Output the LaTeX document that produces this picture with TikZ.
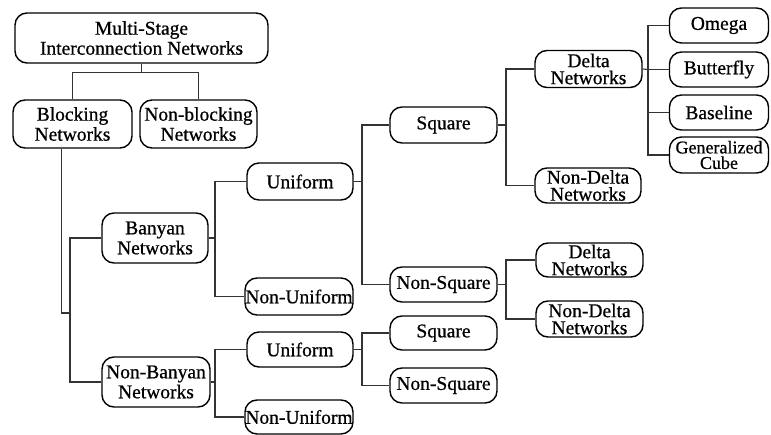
\documentclass[tikz,border=0pt]{standalone}
\usepackage{fontspec}
\setmainfont{Liberation Serif}[FakeBold=0.7]
\begin{document}
\begin{tikzpicture}[x=1pt,y=-1pt,
  nbox/.style={draw=black, line width=1.4pt, rounded corners=12pt, align=center,
    inner sep=0pt, font=\fontsize{19.5}{20}\selectfont},
  tight/.style={font=\fontsize{19.5}{17}\selectfont},
  link/.style={draw=black!80, line width=1.1pt}]
\useasboundingbox (0,0) rectangle (771,435);

% level 0 and 1
\node[nbox, minimum width=253pt, minimum height=50pt] (msin) at (141.5,38) {Multi-Stage\\Interconnection Networks};
\node[nbox, minimum width=119pt, minimum height=48pt] (block) at (72.5,124) {Blocking\\Networks};
\node[nbox, minimum width=117pt, minimum height=48pt] (nonblock) at (198.5,124) {Non-blocking\\Networks};

% banyan branch
\node[nbox, minimum width=106pt, minimum height=50pt] (banyan) at (155,238) {Banyan\\Networks};
\node[nbox, minimum width=108pt, minimum height=50pt] (nonbanyan) at (156,382) {Non-Banyan\\Networks};
\node[nbox, minimum width=106pt, minimum height=37pt] (uni1) at (300,181.5) {Uniform};
\node[nbox, minimum width=108pt, minimum height=37pt] (nonuni1) at (299,296.5) {Non-Uniform};
\node[nbox, minimum width=106pt, minimum height=35pt] (uni2) at (300,349.5) {Uniform};
\node[nbox, minimum width=108pt, minimum height=34pt] (nonuni2) at (299,417) {Non-Uniform};

% square / non-square
\node[nbox, minimum width=107pt, minimum height=36pt] (sq1) at (443.5,125) {Square};
\node[nbox, minimum width=107pt, minimum height=35pt] (nsq1) at (443.5,284.5) {Non-Square};
\node[nbox, minimum width=107pt, minimum height=34pt] (sq2) at (443.5,333) {Square};
\node[nbox, minimum width=107pt, minimum height=35pt] (nsq2) at (443.5,385.5) {Non-Square};

% delta / non-delta
\node[nbox, tight, minimum width=107pt, minimum height=37pt] (delta1) at (588.5,69) {Delta\\Networks};
\node[nbox, tight, minimum width=106pt, minimum height=35pt] (ndelta1) at (588,185.5) {Non-Delta\\Networks};
\node[nbox, tight, minimum width=107pt, minimum height=34pt] (delta2) at (589.5,260) {Delta\\Networks};
\node[nbox, tight, minimum width=107pt, minimum height=36pt] (ndelta2) at (589.5,319) {Non-Delta\\Networks};

% delta network types
\node[nbox, minimum width=99pt, minimum height=35pt] (omega) at (719,25.5) {Omega};
\node[nbox, minimum width=99pt, minimum height=35pt] (butterfly) at (719,69.5) {Butterfly};
\node[nbox, minimum width=99pt, minimum height=35pt] (baseline) at (719,112.5) {Baseline};
\node[nbox, minimum width=99pt, minimum height=36pt, font=\fontsize{18}{15.5}\selectfont] (gencube) at (719,155) {Generalized\\Cube};

% junction points
\coordinate (j1) at (70,313);
\coordinate (bj) at (215,238);
\coordinate (nbj) at (215,382);
\coordinate (u1j) at (362,181.5);
\coordinate (u2j) at (362,349.5);
\coordinate (s1j) at (506,125);
\coordinate (n1j) at (506,284.5);
\coordinate (d1j) at (648,69.5);

% connectors
\draw[link] (msin.south) -- ++(0,9) -| (block.north);
\draw[link] (msin.south) -- ++(0,9) -| (nonblock.north);
\draw[link] ([xshift=-11pt]block.south) |- (j1);
\draw[link] (banyan.west) -| (j1) |- (nonbanyan.west);
\draw[link] (banyan.east) -- (bj);
\draw[link] (uni1.west) -| (bj) |- (nonuni1.west);
\draw[link] (nonbanyan.east) -- (nbj);
\draw[link] (uni2.west) -| (nbj) |- (nonuni2.west);
\draw[link] (uni1.east) -- (u1j);
\draw[link] (sq1.west) -| (u1j) |- (nsq1.west);
\draw[link] (uni2.east) -- (u2j);
\draw[link] (sq2.west) -| (u2j) |- (nsq2.west);
\draw[link] (sq1.east) -- (s1j);
\draw[link] (delta1.west) -| (s1j) |- (ndelta1.west);
\draw[link] (nsq1.east) -- (n1j);
\draw[link] (delta2.west) -| (n1j) |- (ndelta2.west);
\draw[link] (delta1.east) -- (d1j);
\draw[link] (omega.west) -| (d1j) |- (gencube.west);
\draw[link] (butterfly.west) -- (d1j);
\draw[link] (baseline.west) -| (d1j);
\end{tikzpicture}
\end{document}
